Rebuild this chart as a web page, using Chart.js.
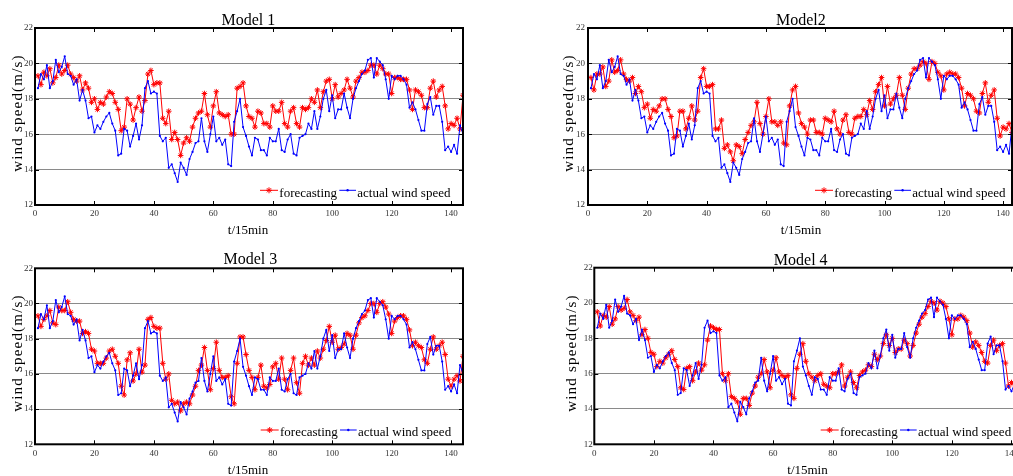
<!DOCTYPE html>
<html><head><meta charset="utf-8">
<script src="https://cdn.jsdelivr.net/npm/chart.js@4.4.1/dist/chart.umd.min.js"></script>
<style>
html,body{margin:0;padding:0;background:#fff;width:1013px;height:476px;overflow:hidden;position:relative}
canvas{position:absolute}
</style></head><body>
<canvas id="c1" width="490" height="240" style="left:0px;top:0px;width:490px;height:240px"></canvas>
<canvas id="c2" width="480" height="240" style="left:550px;top:0px;width:480px;height:240px"></canvas>
<canvas id="c3" width="490" height="240" style="left:0px;top:240px;width:490px;height:240px"></canvas>
<canvas id="c4" width="490" height="240" style="left:550px;top:240px;width:490px;height:240px"></canvas>
<script>
// ---- data (t = 1..144, 15-min steps) ----
const timeIndex = Array.from({length: 144}, (_, i) => i + 1);

const actualSpeed = [
18.6,19.4,19.1,19.9,18.6,19.0,20.2,19.5,19.8,20.4,19.4,19.3,18.8,19.1,17.9,18.5,17.9,16.9,17.0,16.1,
16.5,16.3,16.7,17.0,17.2,16.6,16.2,14.8,14.9,16.3,16.2,15.3,15.9,16.6,15.7,16.5,18.6,19.0,18.3,18.4,
18.3,15.9,15.6,15.8,14.1,14.3,13.8,13.3,14.4,14.1,13.7,14.6,15.0,15.5,15.6,16.9,15.6,15.0,16.0,17.0,
15.6,15.8,15.4,15.7,14.3,14.2,16.7,17.3,18.0,16.4,15.9,15.3,14.8,15.8,15.7,15.1,15.1,14.8,15.8,15.6,
15.6,16.3,15.1,15.0,15.7,16.0,14.9,14.8,15.8,15.9,16.0,16.6,16.3,17.3,16.3,17.0,18.0,18.5,17.3,18.2,
16.9,17.4,17.4,18.3,17.5,16.9,18.0,18.6,19.0,19.4,19.6,20.2,20.3,19.2,20.3,20.1,19.9,19.1,18.0,19.3,
19.1,19.3,19.3,19.1,18.8,17.5,17.8,17.4,16.8,16.2,16.2,17.7,18.1,17.1,17.6,17.6,16.7,15.1,15.3,15.0,
15.4,14.9,16.5,16.0];

const model1Forecast = [
19.3,18.8,19.5,19.3,19.7,18.9,19.2,19.9,19.4,19.6,19.9,19.4,19.2,19.0,19.3,18.5,18.9,18.6,17.8,18.0,
17.4,17.8,17.7,18.1,18.4,18.3,17.8,17.4,16.2,16.4,18.0,17.7,16.8,17.5,18.1,17.3,17.9,19.4,19.6,18.8,
18.9,18.9,16.9,16.6,17.3,15.7,16.1,15.7,14.8,15.5,15.8,15.6,16.4,16.9,17.2,17.3,18.3,17.1,16.4,17.6,
18.4,17.2,17.1,17.0,17.1,16.0,16.0,18.6,18.7,18.9,17.6,17.0,16.9,16.4,17.3,17.2,16.6,16.6,16.4,17.6,
17.3,17.3,17.8,16.6,16.4,17.3,17.5,16.6,16.4,17.5,17.4,17.5,18.0,17.8,18.5,17.5,18.4,19.0,19.1,18.0,
18.8,18.1,18.3,18.5,19.1,18.6,18.1,19.0,19.2,19.5,19.5,19.6,19.9,19.9,19.4,19.9,19.7,19.4,19.4,18.3,
19.2,19.2,19.1,19.1,19.1,18.5,17.4,18.5,18.4,18.2,17.5,17.5,18.6,19.0,18.1,18.5,18.7,17.6,16.3,16.6,
16.5,16.9,16.3,18.2];

const model2Forecast = [
19.2,18.5,19.4,19.4,19.8,18.7,19.0,20.2,19.5,19.6,20.2,19.4,19.1,19.0,19.2,18.3,18.7,18.4,17.5,17.7,
16.9,17.4,17.3,17.6,18.0,18.0,17.4,17.0,15.8,15.9,17.3,17.3,16.3,16.9,17.6,16.8,17.3,19.2,19.7,18.7,
18.7,18.8,16.3,16.3,16.8,15.2,15.4,15.0,14.5,15.4,15.3,14.9,15.7,16.1,16.5,16.7,17.8,16.6,16.0,17.0,
18.0,16.7,16.7,16.5,16.7,15.5,15.4,17.6,18.5,18.7,17.2,16.6,16.4,16.0,16.8,16.8,16.1,16.1,16.0,16.9,
16.8,16.7,17.3,16.3,16.0,16.8,17.1,16.1,16.0,16.9,17.0,17.0,17.4,17.1,17.9,17.4,18.4,18.8,19.2,17.6,
18.7,17.7,18.0,18.2,19.2,18.2,17.4,18.6,19.4,19.7,19.7,19.9,20.1,20.0,19.1,20.1,20.0,19.5,19.3,18.5,
19.4,19.5,19.4,19.4,19.2,18.6,17.6,18.3,18.2,18.0,17.3,17.2,18.3,18.9,17.8,18.2,18.5,16.9,15.9,16.4,
16.3,16.6,16.1,16.6];

const model3Forecast = [
19.3,18.7,19.1,19.3,19.6,18.9,18.8,19.8,19.6,19.6,20.1,19.5,19.1,19.0,19.0,18.3,18.4,18.3,17.4,17.3,
16.6,16.6,16.6,16.9,17.3,17.4,17.0,16.6,15.3,14.8,16.8,17.2,15.6,16.0,17.4,16.1,16.5,19.1,19.2,18.7,
18.6,18.6,16.6,15.7,16.0,14.5,14.3,14.4,13.9,14.3,14.4,14.3,14.8,15.3,16.2,16.5,17.5,16.2,15.1,16.3,
17.8,16.2,15.8,15.8,15.9,14.7,14.3,16.6,18.1,18.1,17.1,16.2,15.8,15.1,15.8,16.5,15.3,15.2,15.4,16.4,
16.6,15.7,16.9,15.7,15.1,16.2,16.9,15.5,14.9,16.6,17.0,16.5,16.9,16.5,17.3,16.9,17.4,17.9,18.7,17.8,
18.2,17.4,17.5,17.7,18.3,18.2,17.4,18.2,18.9,19.2,19.3,19.6,20.0,20.0,19.5,20.0,20.1,19.8,19.4,18.3,
19.0,19.2,19.3,19.3,19.1,18.5,17.6,17.8,17.6,17.5,16.8,16.6,17.4,18.1,17.4,17.6,17.8,17.1,15.7,15.3,
15.7,15.9,15.6,17.0];

const model4Forecast = [
19.5,18.7,19.3,19.2,19.8,18.8,19.1,19.8,19.6,19.7,20.2,19.5,19.3,19.0,19.2,18.2,18.5,18.0,17.2,17.1,
16.4,16.7,16.6,16.9,17.1,17.3,16.8,16.4,15.2,15.1,16.3,16.4,15.6,16.1,16.6,16.2,16.5,17.9,18.7,18.6,
18.5,18.5,16.0,15.6,16.0,14.7,14.6,14.4,13.7,14.6,14.6,14.2,14.9,15.3,15.8,16.0,16.8,16.1,15.2,16.2,
16.9,16.1,15.9,15.8,15.9,14.8,14.6,16.3,17.1,17.7,16.7,16.0,15.8,15.6,15.9,16.0,15.4,15.3,15.2,16.0,
16.0,16.1,16.5,15.3,15.8,16.1,15.5,15.2,15.9,16.1,16.2,16.5,16.4,17.1,16.8,17.0,17.7,18.2,17.6,18.0,
17.2,17.4,17.4,17.9,17.7,17.0,17.6,18.3,18.8,19.2,19.4,19.8,20.1,20.0,19.6,20.1,20.0,19.8,19.1,18.2,
19.1,19.1,19.3,19.2,19.0,18.3,17.5,17.8,17.6,17.2,16.7,16.6,17.6,17.9,17.3,17.6,17.7,16.6,15.3,15.5,
15.4,15.3,15.0,15.6];

const xTickValues = [0, 20, 40, 60, 80, 100, 120, 140];
const yTickValues = [12, 14, 16, 18, 20, 22];
const legendLabels = ['forecasting', 'actual wind speed'];
const panelTitles = ['Model 1', 'Model2', 'Model 3', 'Model 4'];
const xAxisTitle = 't/15min';
const yAxisTitle = 'wind speed(m/s)';

const SERIF = '"Liberation Serif", "Times New Roman", serif';

const decor = {
  id: 'decor',
  afterDraw(chart, args, o) {
    const {ctx, chartArea: a, scales: {x, y}} = chart;
    const ox = o.offX, oy = o.offY;
    ctx.save();
    // inward tick marks on all four sides
    ctx.strokeStyle = '#000';
    ctx.lineWidth = 1;
    ctx.beginPath();
    xTickValues.forEach(v => {
      const px = Math.round(x.getPixelForValue(v)) + 0.5;
      if (px > a.left + 2 && px < a.right - 2) {
        ctx.moveTo(px, a.top); ctx.lineTo(px, a.top + 4);
        ctx.moveTo(px, a.bottom); ctx.lineTo(px, a.bottom - 4);
      }
    });
    yTickValues.forEach(v => {
      const py = Math.round(y.getPixelForValue(v)) + 0.5;
      if (py > a.top + 2 && py < a.bottom - 2) {
        ctx.moveTo(a.left, py); ctx.lineTo(a.left + 4, py);
        ctx.moveTo(a.right, py); ctx.lineTo(a.right - 4, py);
      }
    });
    ctx.stroke();
    // frame
    ctx.lineWidth = 2;
    ctx.strokeRect(a.left, a.top, a.right - a.left, a.bottom - a.top);

    ctx.fillStyle = '#000';
    ctx.textBaseline = 'alphabetic';
    ctx.textAlign = 'center';
    // panel title
    ctx.font = '16px ' + SERIF;
    ctx.fillText(o.title, o.titleX - ox, o.titleY - oy);
    // x axis title
    ctx.font = '13px ' + SERIF;
    ctx.fillText(xAxisTitle, o.xTitleX - ox, o.xTitleY - oy);
    // y axis title
    ctx.save();
    ctx.translate(o.yTitleX - ox, o.yTitleY - oy);
    ctx.rotate(-Math.PI / 2);
    ctx.font = '15px ' + SERIF;
    ctx.letterSpacing = '1.2px';
    ctx.fillText(yAxisTitle, 0, 0);
    ctx.restore();

    // legend
    const lx = o.legX - ox, ly = o.legY - oy;
    ctx.lineWidth = 1;
    ctx.strokeStyle = '#ff0000';
    ctx.beginPath(); ctx.moveTo(lx, ly); ctx.lineTo(lx + 18, ly); ctx.stroke();
    Chart.helpers.drawPoint(ctx, {pointStyle: 'star', radius: 3, borderWidth: 1}, lx + 9, ly);
    ctx.strokeStyle = '#0000ff';
    ctx.fillStyle = '#0000ff';
    ctx.beginPath(); ctx.moveTo(lx + 79.3, ly); ctx.lineTo(lx + 96, ly); ctx.stroke();
    ctx.beginPath(); ctx.arc(lx + 87.6, ly, 1.2, 0, Math.PI * 2); ctx.fill();
    ctx.fillStyle = '#000';
    ctx.textAlign = 'left';
    ctx.font = '13px ' + SERIF;
    ctx.fillText(legendLabels[0], lx + 19.3, ly + 6.4);
    ctx.fillText(legendLabels[1], lx + 97.3, ly + 6.4);
    ctx.restore();
  }
};

function buildPanel(id, forecast, cfg) {
  const tickFont = {family: SERIF, size: 9};
  return new Chart(document.getElementById(id), {
    type: 'line',
    data: {
      datasets: [
        {
          label: legendLabels[1],
          data: timeIndex.map((t, i) => ({x: t, y: actualSpeed[i]})),
          borderColor: '#0000ff', backgroundColor: '#0000ff',
          pointBorderColor: '#0000ff', pointBackgroundColor: '#0000ff',
          borderWidth: 1, pointStyle: 'circle', pointRadius: 1.1, pointBorderWidth: 0,
          tension: 0, order: 0
        },
        {
          label: legendLabels[0],
          data: timeIndex.map((t, i) => ({x: t, y: forecast[i]})),
          borderColor: '#ff0000', backgroundColor: '#ff0000',
          pointBorderColor: '#ff0000', pointBackgroundColor: '#ff0000',
          borderWidth: 1, pointStyle: 'star', pointRadius: 2.8, pointBorderWidth: 1,
          tension: 0, order: 1
        }
      ]
    },
    options: {
      responsive: false, animation: false, devicePixelRatio: 1, events: [],
      layout: {padding: {left: 0, top: cfg.top, right: cfg.rightPad, bottom: 0}},
      plugins: {legend: {display: false}, tooltip: {enabled: false}, title: {display: false}, decor: cfg},
      scales: {
        x: {
          type: 'linear', min: 0, max: cfg.xmax,
          afterFit: s => { s.height = cfg.xAxisH; },
          ticks: {stepSize: 20, includeBounds: false, padding: 3.6, color: '#333', font: tickFont, maxRotation: 0, autoSkip: false},
          grid: {display: false, drawTicks: false},
          border: {display: false}
        },
        y: {
          type: 'linear', min: 12, max: 22,
          afterFit: s => { s.width = cfg.yAxisW; },
          ticks: {stepSize: 2, padding: cfg.yTickPad, color: '#333', font: tickFont},
          grid: {drawTicks: false, lineWidth: 1,
                 color: c => (c.tick && (c.tick.value === 12 || c.tick.value === 22)) ? 'rgba(0,0,0,0)' : '#8a8a8a'},
          border: {display: false}
        }
      }
    },
    plugins: [decor]
  });
}

buildPanel('c1', model1Forecast, {offX: 0, offY: 0, yAxisW: 35, top: 28, rightPad: 27, xAxisH: 35, xmax: 144, yTickPad: 2,
  title: panelTitles[0], titleX: 248.4, titleY: 25, xTitleX: 248, xTitleY: 234, yTitleX: 22, yTitleY: 113, legX: 260, legY: 190.3});
buildPanel('c2', model2Forecast, {offX: 550, offY: 0, yAxisW: 38, top: 28, rightPad: 18, xAxisH: 35, xmax: 143, yTickPad: 3,
  title: panelTitles[1], titleX: 800.8, titleY: 25, xTitleX: 801, xTitleY: 234, yTitleX: 572.7, yTitleY: 113, legX: 815, legY: 190.3});
buildPanel('c3', model3Forecast, {offX: 0, offY: 240, yAxisW: 35, top: 28.3, rightPad: 27, xAxisH: 35.7, xmax: 144, yTickPad: 2,
  title: panelTitles[2], titleX: 250.3, titleY: 264.3, xTitleX: 248, xTitleY: 474, yTitleX: 22, yTitleY: 353, legX: 260.7, legY: 430});
buildPanel('c4', model4Forecast, {offX: 550, offY: 240, yAxisW: 44.3, top: 27.7, rightPad: 16.6, xAxisH: 35.7, xmax: 144, yTickPad: 1.6,
  title: panelTitles[3], titleX: 800.7, titleY: 265, xTitleX: 807.5, xTitleY: 474, yTitleX: 576.3, yTitleY: 353, legX: 820.7, legY: 430});
</script>
</body></html>
